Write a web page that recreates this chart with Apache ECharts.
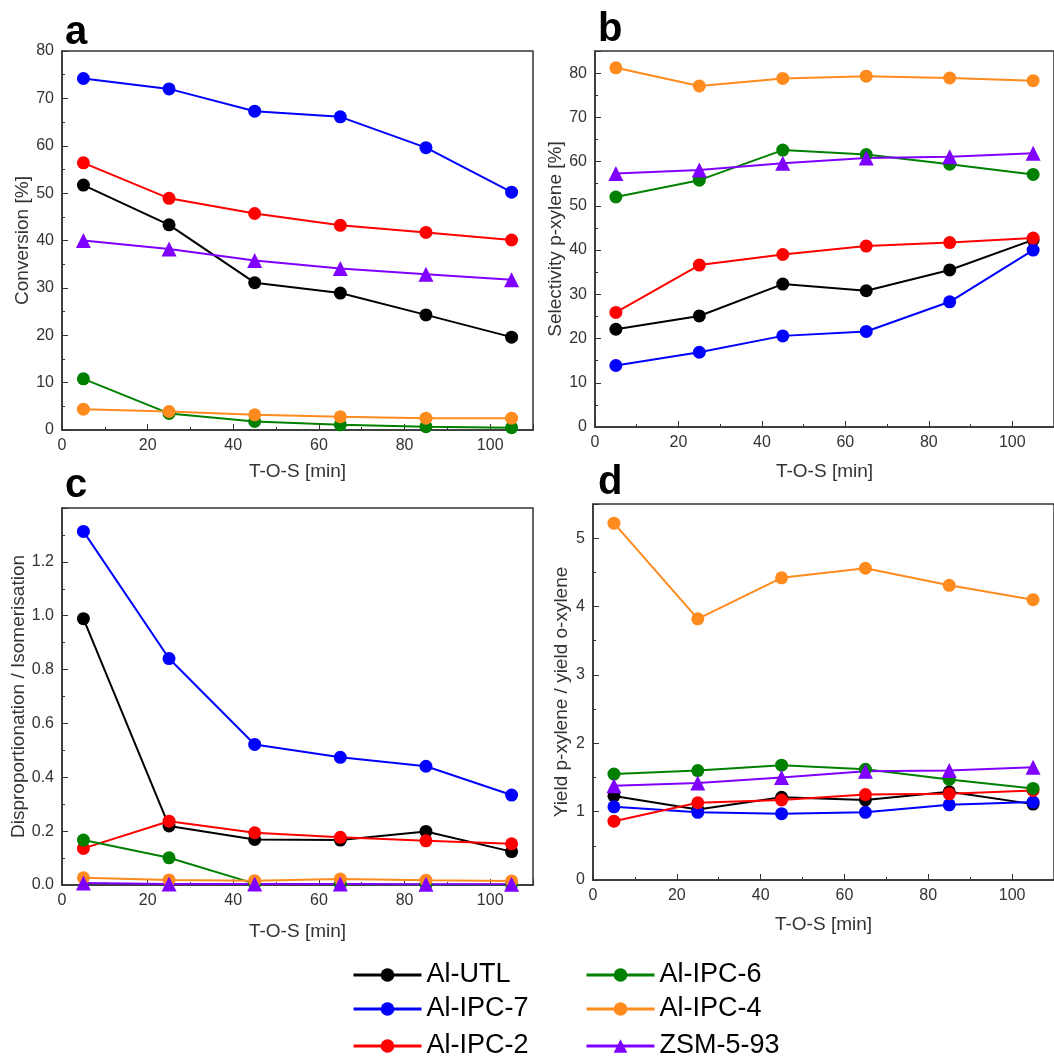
<!DOCTYPE html>
<html>
<head>
<meta charset="utf-8">
<script src="https://cdn.jsdelivr.net/npm/echarts@6/dist/echarts.min.js"></script>
<style>
  html, body { margin: 0; background: #fff; }
  #main { width: 1054px; height: 1057px; }
</style>
</head>
<body>
<div id="main"></div>
<script>
  // time on stream [min]
  const tos = [5, 25, 45, 65, 85, 105];
  const names = ['Al-UTL', 'Al-IPC-7', 'Al-IPC-2', 'Al-IPC-6', 'Al-IPC-4', 'ZSM-5-93'];
  const colors = ['#000000', '#0000ff', '#ff0000', '#008000', '#ff8a1e', '#8000ff'];

  // a - conversion [%]
  const convUTL  = [51.7, 43.3, 31.1, 28.9, 24.3, 19.6];
  const convIPC7 = [74.2, 72.0, 67.3, 66.1, 59.6, 50.2];
  const convIPC2 = [56.4, 48.9, 45.7, 43.2, 41.7, 40.1];
  const convIPC6 = [10.8, 3.5, 1.8, 1.1, 0.7, 0.5];
  const convIPC4 = [4.4, 3.9, 3.2, 2.8, 2.5, 2.5];
  const convZSM  = [40.0, 38.2, 35.8, 34.1, 32.9, 31.7];

  // b - selectivity p-xylene [%]
  const selUTL  = [22.1, 25.1, 32.3, 30.8, 35.5, 42.3];
  const selIPC7 = [13.9, 16.9, 20.6, 21.6, 28.3, 40.0];
  const selIPC2 = [25.9, 36.6, 39.0, 40.9, 41.7, 42.7];
  const selIPC6 = [52.0, 55.8, 62.6, 61.6, 59.4, 57.1];
  const selIPC4 = [81.2, 77.1, 78.8, 79.3, 78.9, 78.3];
  const selZSM  = [57.3, 58.1, 59.6, 60.8, 61.1, 61.9];

  // c - disproportionation / isomerisation
  const disUTL  = [0.989, 0.219, 0.169, 0.167, 0.199, 0.124];
  const disIPC7 = [1.313, 0.841, 0.522, 0.474, 0.441, 0.334];
  const disIPC2 = [0.136, 0.237, 0.194, 0.177, 0.164, 0.153];
  const disIPC6 = [0.167, 0.101, 0.005, 0.003, 0.002, 0.002];
  const disIPC4 = [0.027, 0.019, 0.016, 0.022, 0.018, 0.015];
  const disZSM  = [0.007, 0.004, 0.004, 0.004, 0.003, 0.003];

  // d - yield p-xylene / yield o-xylene
  const yldUTL  = [1.23, 1.03, 1.21, 1.17, 1.29, 1.11];
  const yldIPC7 = [1.07, 0.99, 0.97, 0.99, 1.10, 1.14];
  const yldIPC2 = [0.86, 1.13, 1.17, 1.25, 1.26, 1.31];
  const yldIPC6 = [1.55, 1.60, 1.68, 1.62, 1.47, 1.34];
  const yldIPC4 = [5.22, 3.82, 4.42, 4.56, 4.31, 4.10];
  const yldZSM  = [1.38, 1.42, 1.50, 1.59, 1.60, 1.65];

  const panels = [
    [convUTL, convIPC7, convIPC2, convIPC6, convIPC4, convZSM],
    [selUTL, selIPC7, selIPC2, selIPC6, selIPC4, selZSM],
    [disUTL, disIPC7, disIPC2, disIPC6, disIPC4, disZSM],
    [yldUTL, yldIPC7, yldIPC2, yldIPC6, yldIPC4, yldZSM]
  ];

  const font = '"Liberation Sans", Arial, sans-serif';
  const axisColor = '#333';

  let myChart = echarts.init(document.getElementById('main'));

  function gridBox(left, top, width, height) {
    return { left: left, top: top, width: width, height: height, show: true,
      borderColor: axisColor, borderWidth: 1.5, backgroundColor: 'transparent' };
  }

  function xAx(idx, gap) {
    return {
      type: 'value', gridIndex: idx, min: 0, max: 110, interval: 20,
      name: 'T-O-S [min]', nameLocation: 'middle', nameGap: gap,
      nameTextStyle: { fontSize: 19, color: axisColor, fontFamily: font },
      axisLine: { onZero: false, lineStyle: { color: axisColor, width: 1.5 } },
      axisTick: { inside: true, length: 6, lineStyle: { color: axisColor } },
      minorTick: { show: true, splitNumber: 2, length: 3, lineStyle: { color: axisColor } },
      splitLine: { show: false },
      axisLabel: { fontSize: 16, color: axisColor, fontFamily: font, showMaxLabel: false,
        formatter: function (v) { return v > 100 ? '' : v; } }
    };
  }

  function yAx(idx, name, max, interval, gap, digits) {
    return {
      type: 'value', gridIndex: idx, min: 0, max: max, interval: interval,
      name: name, nameLocation: 'middle', nameGap: gap,
      nameTextStyle: { fontSize: 19, color: axisColor, fontFamily: font },
      axisLine: { show: true, lineStyle: { color: axisColor, width: 1.5 } },
      axisTick: { show: true, inside: true, length: 6, lineStyle: { color: axisColor } },
      minorTick: { show: true, splitNumber: 2, length: 3, lineStyle: { color: axisColor } },
      splitLine: { show: false },
      axisLabel: { fontSize: 16, color: axisColor, fontFamily: font, showMaxLabel: max % interval === 0,
        formatter: function (v) { return v.toFixed(digits); } }
    };
  }

  let series = [];
  panels.forEach(function (vals, p) {
    vals.forEach(function (arr, s) {
      series.push({
        name: names[s],
        type: 'line',
        xAxisIndex: p,
        yAxisIndex: p,
        symbol: s === 5 ? 'triangle' : 'circle',
        symbolSize: s === 5 ? 15 : 13,
        color: colors[s],
        lineStyle: { width: 2 },
        emphasis: { disabled: true },
        data: arr.map(function (v, i) { return [tos[i], v]; })
      });
    });
  });

  // one legend per entry, two columns of three
  const legendLeft = [347, 347, 347, 580, 580, 580];
  const legendTop = [956, 990, 1027, 956, 990, 1027];
  let legends = names.map(function (n, i) {
    return {
      data: [n], left: legendLeft[i], top: legendTop[i],
      itemWidth: 68, itemHeight: 17, selectedMode: false,
      lineStyle: { width: 3 },
      textStyle: { fontSize: 27, color: '#000', fontFamily: font, lineHeight: 28 }
    };
  });

  function letter(txt, x, y) {
    return { type: 'text', x: x, y: y,
      style: { text: txt, font: 'bold 40px ' + font, fill: '#000', verticalAlign: 'top' } };
  }

  let option = {
    backgroundColor: '#fff',
    animation: false,
    grid: [
      gridBox(62, 51, 471, 379),
      gridBox(595, 51, 467, 376),
      gridBox(62, 508, 471, 377),
      gridBox(593, 504, 470, 376)
    ],
    xAxis: [xAx(0, 32), xAx(1, 35), xAx(2, 37), xAx(3, 35)],
    yAxis: [
      yAx(0, 'Conversion [%]', 80, 10, 29, 0),
      yAx(1, 'Selectivity p-xylene [%]', 85, 10, 29, 0),
      yAx(2, 'Disproportionation / Isomerisation', 1.4, 0.2, 33, 1),
      yAx(3, 'Yield p-xylene / yield o-xylene', 5.5, 1, 22, 0)
    ],
    legend: legends,
    graphic: [
      letter('a', 65, 13),
      letter('b', 598, 10),
      letter('c', 65, 466),
      letter('d', 598, 463)
    ],
    series: series
  };

  myChart.setOption(option);
</script>
</body>
</html>
